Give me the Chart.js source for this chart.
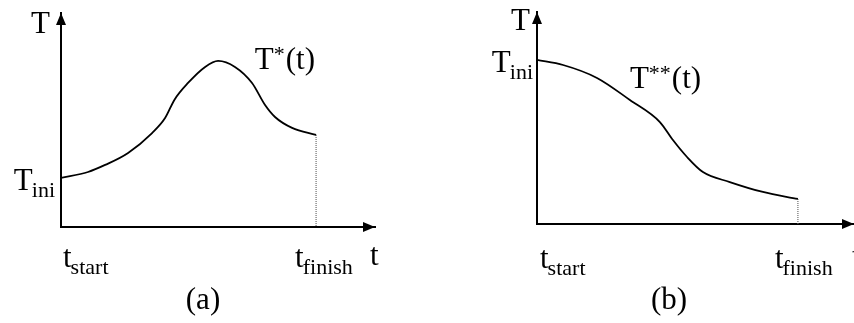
<!DOCTYPE html>
<html>
<head>
<meta charset="utf-8">
<script src="https://cdn.jsdelivr.net/npm/chart.js@4.4.1/dist/chart.umd.min.js"></script>
<style>
  body { margin: 0; background: #fff; }
  .wrap { position: relative; width: 854px; height: 323px; overflow: hidden; background: #fff; }
  canvas { position: absolute; top: 0; }
</style>
</head>
<body>
<div class="wrap">
  <canvas id="chartA" width="427" height="323" style="left:0px"></canvas>
  <canvas id="chartB" width="424" height="323" style="left:430px"></canvas>
</div>
<script>
// panel (a): temperature rises to a peak, then falls back before t_finish
const timeA = [0, 1.06, 1.73, 2.63, 3.57, 4.08, 4.45, 4.98, 5.65, 6.16, 6.82, 7.49, 8.0, 8.39, 9.06, 10];
const tempA = [22.9, 25.7, 29.0, 34.6, 43.9, 50.9, 59.5, 67.3, 74.8, 77.6, 74.8, 67.3, 57.0, 51.4, 46.3, 43.0];

// panel (b): temperature falls from T_ini all the way
const timeB = [0, 1.0, 2.3, 3.56, 4.71, 5.21, 5.75, 6.36, 7.39, 8.66, 10];
const tempB = [77.4, 75.0, 68.9, 58.5, 48.1, 39.6, 31.6, 24.5, 19.8, 15.1, 11.8];

const tStart = 0;
const tFinish = 10;
const xTickSubs = ['start', 'finish'];
const yTickSub = 'ini';
const curveNames = ['T', '*', '(t)'];

const FONT = "'Liberation Serif', 'Times New Roman', serif";
const MAIN = 31;
const SMALL = 22;

function toPoints(xs, ys) {
  return xs.map((x, i) => ({ x: x, y: ys[i] }));
}

// main letter followed by a lowered subscript, left aligned at x
function drawSub(ctx, x, y, main, sub) {
  ctx.font = MAIN + 'px ' + FONT;
  ctx.fillText(main, x, y);
  const w = ctx.measureText(main).width;
  ctx.font = SMALL + 'px ' + FONT;
  ctx.fillText(sub, x + w - 1, y + 7);
}

function subWidth(ctx, main, sub) {
  ctx.font = MAIN + 'px ' + FONT;
  const w = ctx.measureText(main).width;
  ctx.font = SMALL + 'px ' + FONT;
  return w - 1 + ctx.measureText(sub).width;
}

const axisPlugin = {
  id: 'axisDecor',
  afterDraw(chart) {
    const ctx = chart.ctx;
    const area = chart.chartArea;
    const xs = chart.scales.x;
    const ys = chart.scales.y;
    const cfg = chart.options.plugins.axisDecor;
    ctx.save();
    ctx.fillStyle = '#000';

    // arrow heads at the ends of both axes
    ctx.beginPath();
    ctx.moveTo(area.left, area.top);
    ctx.lineTo(area.left - 5, area.top + 12);
    ctx.lineTo(area.left + 5, area.top + 12);
    ctx.closePath();
    ctx.fill();
    ctx.beginPath();
    ctx.moveTo(area.right, area.bottom);
    ctx.lineTo(area.right - 12, area.bottom - 5);
    ctx.lineTo(area.right - 12, area.bottom + 5);
    ctx.closePath();
    ctx.fill();

    ctx.textBaseline = 'alphabetic';
    ctx.textAlign = 'left';

    // axis names
    ctx.font = MAIN + 'px ' + FONT;
    ctx.textAlign = 'right';
    ctx.fillText('T', area.left + cfg.yNameDx, area.top + cfg.yNameDy);
    ctx.textAlign = 'left';
    ctx.fillText('t', area.right + cfg.xNameDx, cfg.tickBase - 2);

    // T_ini on the y axis
    const yIni = ys.getPixelForValue(cfg.tIni);
    const wIni = subWidth(ctx, 'T', yTickSub);
    drawSub(ctx, area.left - cfg.iniGap - wIni, yIni + cfg.iniDy, 'T', yTickSub);

    // t_start and t_finish under the x axis
    drawSub(ctx, xs.getPixelForValue(tStart) + cfg.startDx, cfg.tickBase, 't', xTickSubs[0]);
    drawSub(ctx, xs.getPixelForValue(tFinish) + cfg.finishDx, cfg.tickBase, 't', xTickSubs[1]);

    // curve name T*(t) / T**(t)
    const cx = xs.getPixelForValue(cfg.nameAt[0]);
    const cy = ys.getPixelForValue(cfg.nameAt[1]);
    ctx.font = MAIN + 'px ' + FONT;
    ctx.fillText(curveNames[0], cx, cy);
    let w = ctx.measureText(curveNames[0]).width;
    ctx.font = SMALL + 'px ' + FONT;
    const stars = curveNames[1].repeat(cfg.stars);
    ctx.fillText(stars, cx + w, cy - 8);
    w += ctx.measureText(stars).width + 1;
    ctx.font = MAIN + 'px ' + FONT;
    ctx.fillText(curveNames[2], cx + w, cy);

    // panel caption
    ctx.textAlign = 'center';
    ctx.fillText(cfg.caption, cfg.captionX, 309);
    ctx.restore();
  }
};

function makePanel(id, times, temps, xMax, padding, decor) {
  const ctx = document.getElementById(id).getContext('2d');
  return new Chart(ctx, {
    type: 'line',
    data: {
      datasets: [
        {
          data: toPoints(times, temps),
          borderColor: '#000',
          borderWidth: 1.8,
          pointRadius: 0,
          cubicInterpolationMode: 'monotone',
          fill: false
        },
        {
          // dotted drop from the last value to the time axis
          data: [{ x: tFinish, y: temps[temps.length - 1] }, { x: tFinish, y: 0 }],
          borderColor: '#6a6a6a',
          borderWidth: 1.2,
          borderDash: [1, 1],
          pointRadius: 0
        }
      ]
    },
    options: {
      responsive: false,
      animation: false,
      events: [],
      layout: { padding: padding },
      plugins: {
        legend: { display: false },
        tooltip: { enabled: false },
        axisDecor: decor
      },
      scales: {
        x: {
          type: 'linear',
          min: 0,
          max: xMax,
          grid: { display: false, drawTicks: false },
          ticks: { display: false },
          border: { display: true, color: '#000', width: 2 },
          afterFit(scale) { scale.height = 0; }
        },
        y: {
          type: 'linear',
          min: 0,
          max: 100,
          grid: { display: false, drawTicks: false },
          ticks: { display: false },
          border: { display: true, color: '#000', width: 2 },
          afterFit(scale) { scale.width = 0; }
        }
      }
    },
    plugins: [axisPlugin]
  });
}

makePanel('chartA', timeA, tempA, 12.31,
  { left: 61, top: 13, right: 52, bottom: 96 },
  {
    tIni: tempA[0], iniGap: 6, iniDy: 12,
    yNameDx: -11, yNameDy: 20, xNameDx: -5,
    tickBase: 267, startDx: 2, finishDx: -21,
    nameAt: [7.6, 74], stars: 1,
    caption: '(a)', captionX: 203
  });

makePanel('chartB', timeB, tempB, 12.15,
  { left: 107, top: 12, right: 0, bottom: 99 },
  {
    tIni: tempB[0], iniGap: 4, iniDy: 12,
    yNameDx: -7, yNameDy: 18, xNameDx: -2,
    tickBase: 268, startDx: 3, finishDx: -23,
    nameAt: [3.56, 64.2], stars: 2,
    caption: '(b)', captionX: 239
  });
</script>
</body>
</html>
